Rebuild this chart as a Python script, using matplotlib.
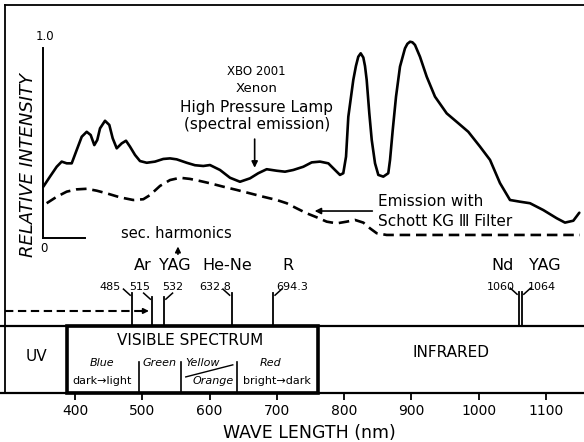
import matplotlib
matplotlib.use('Agg')
import matplotlib.pyplot as plt
from matplotlib.lines import Line2D
from matplotlib.patches import Rectangle

# xenon lamp spectrum (solid)
lamp_wl = [352.9, 362.8, 372.8, 380.2, 387.7, 395.1, 402.5, 410.0, 417.4, 423.3,
           428.7, 433.1, 437.2, 444.6, 451.0, 456.0, 462.0, 469.4, 475.8, 481.7,
           489.2, 496.6, 506.6, 518.9, 531.2, 541.2, 551.1, 566.0, 578.3, 590.7,
           600.6, 615.5, 630.4, 645.2, 660.1, 672.4, 684.9, 699.8, 712.1, 724.4,
           739.3, 751.8, 764.1, 776.5, 786.4, 793.8, 798.7, 802.8, 806.2, 813.6,
           817.5, 821.0, 824.6, 828.5, 831.0, 833.5, 837.4, 841.0, 845.9, 850.8,
           858.2, 865.6, 868.2, 872.2, 877.1, 883.0, 890.4, 894.0, 897.9, 901.5,
           905.3, 912.7, 922.7, 935.0, 952.4, 969.7, 984.5, 1001.9, 1016.8, 1031.6,
           1046.5, 1061.4, 1076.2, 1096.0, 1115.9, 1128.2, 1140.6, 1149.5]
lamp_int = [0.270, 0.323, 0.375, 0.402, 0.393, 0.393, 0.463, 0.533, 0.559, 0.542,
            0.489, 0.516, 0.577, 0.617, 0.595, 0.525, 0.472, 0.498, 0.512, 0.481,
            0.437, 0.405, 0.396, 0.402, 0.416, 0.419, 0.414, 0.396, 0.383, 0.379,
            0.384, 0.358, 0.317, 0.296, 0.314, 0.341, 0.362, 0.354, 0.349, 0.358,
            0.375, 0.398, 0.402, 0.393, 0.358, 0.332, 0.341, 0.428, 0.638, 0.832,
            0.905, 0.954, 0.972, 0.950, 0.905, 0.832, 0.656, 0.516, 0.393, 0.332,
            0.323, 0.341, 0.411, 0.568, 0.744, 0.902, 0.998, 1.022, 1.033, 1.030,
            1.016, 0.954, 0.849, 0.744, 0.656, 0.604, 0.559, 0.481, 0.411, 0.289,
            0.200, 0.191, 0.183, 0.147, 0.104, 0.081, 0.091, 0.133]

# with Schott KG III filter (dashed)
filt_wl = [357.9, 372.8, 387.7, 402.5, 417.4, 432.3, 447.1, 466.9, 486.6, 501.5,
           511.5, 526.3, 541.2, 556.1, 570.9, 585.8, 600.6, 620.4, 640.3, 660.1,
           679.9, 699.8, 714.6, 729.5, 744.4, 759.2, 774.1, 788.9, 803.8, 816.1,
           828.5, 838.4, 848.4, 863.2, 883.0, 1150.5]
filt_int = [0.183, 0.217, 0.244, 0.256, 0.259, 0.249, 0.235, 0.214, 0.200, 0.204,
            0.226, 0.274, 0.305, 0.317, 0.311, 0.300, 0.288, 0.270, 0.253, 0.235,
            0.217, 0.200, 0.183, 0.156, 0.130, 0.109, 0.086, 0.077, 0.086, 0.095,
            0.081, 0.051, 0.025, 0.016, 0.016, 0.016]

# laser lines
laser_wl = [485, 515, 532, 632.8, 694.3, 1060, 1064]
laser_num = ['485', '515', '532', '632.8', '694.3', '1060', '1064']
laser_names = ['Ar', 'YAG', 'He-Ne', 'R', 'Nd', 'YAG']

# spectrum bands
uv_edge = 388
vis_edge = 761
color_edges = [495, 557, 641]
xticks = [400, 500, 600, 700, 800, 900, 1000, 1100]

# layout (pixel based mapping of the scan)
px_per_nm = 0.67286
x_lo = 400 - 75 / px_per_nm
x_hi = 400 + (584 - 75) / px_per_nm

fig = plt.figure(figsize=(5.84, 4.42), dpi=100)

ax = fig.add_axes([0, 116 / 442, 1, 326 / 442])
ax.set_xlim(x_lo, x_hi)
ax.set_ylim(-88 / 190, 238 / 190)
for s in ['top', 'right']:
    ax.spines[s].set_visible(False)
ax.spines['left'].set_position(('data', 352.9))
ax.spines['left'].set_bounds(0, 1)
ax.spines['bottom'].set_position(('data', 0))
ax.spines['bottom'].set_bounds(352.9, 415)
for s in ['left', 'bottom']:
    ax.spines[s].set_linewidth(1.4)
ax.set_xticks([])
ax.set_yticks([])
ax.patch.set_alpha(0)

ax.plot(lamp_wl, lamp_int, color='black', lw=1.9, solid_capstyle='round',
        solid_joinstyle='round')
ax.plot(filt_wl, filt_int, color='black', lw=1.9, dashes=(4, 2.2),
        dash_joinstyle='round')

ax.text(355, 1.058, '1.0', ha='center', va='center', fontsize=8.5)
ax.text(354, -0.053, '0', ha='center', va='center', fontsize=8.5)
ax.text(330, 0.384, 'RELATIVE INTENSITY', rotation=90, ha='center', va='center',
        fontsize=13, style='italic')

# lamp annotation
ax.text(670, 0.874, 'XBO 2001', ha='center', va='center', fontsize=8.5)
ax.text(670, 0.789, 'Xenon', ha='center', va='center', fontsize=9.5)
ax.text(670, 0.689, 'High Pressure Lamp', ha='center', va='center', fontsize=11)
ax.text(670, 0.595, '(spectral emission)', ha='center', va='center', fontsize=11)
ax.annotate('', xy=(667, 0.355), xytext=(667, 0.535),
            arrowprops=dict(arrowstyle='-|>', color='black', lw=1.2, mutation_scale=9))

# filter annotation
ax.text(850, 0.19, 'Emission with', ha='left', va='center', fontsize=11)
ax.text(850, 0.089, 'Schott KG Ⅲ Filter', ha='left', va='center', fontsize=11)
ax.annotate('', xy=(752, 0.142), xytext=(846, 0.142),
            arrowprops=dict(arrowstyle='-|>', color='black', lw=1.2, mutation_scale=9))

# second harmonics
ax.text(550, 0.026, 'sec. harmonics', ha='center', va='center', fontsize=10.5)
ax.annotate('', xy=(553, -0.03), xytext=(553, -0.10),
            arrowprops=dict(arrowstyle='-|>', color='black', lw=1.2, mutation_scale=8))

# laser lines
tops = [-0.289, -0.31, -0.31, -0.289, -0.289, -0.284, -0.284]
lead = [-1, -1, 1, -1, 1, -1, 1]
num_x = [452, 496.6, 545.6, 608, 722.4, 1033, 1094]
for wl, t, d, lab, nx in zip(laser_wl, tops, lead, laser_num, num_x):
    ax.plot([wl, wl], [t, -88 / 190], color='black', lw=1.3)
    ax.plot([wl + d * 3, wl + d * 13], [t - 0.012, t + 0.02], color='black', lw=1.1)
    ax.text(nx, -0.258, lab, ha='center', va='center', fontsize=8)

name_x = [500, 548.6, 627, 716.5, 1036, 1098]
for nx, nm in zip(name_x, laser_names):
    ax.text(nx, -0.147, nm, ha='center', va='center', fontsize=11.5)

# dashed arrow to the 515 line
ax.plot([296, 503], [-0.384, -0.384], color='black', lw=1.5, dashes=(4, 2.2))
ax.annotate('', xy=(514, -0.384), xytext=(500, -0.384),
            arrowprops=dict(arrowstyle='-|>', color='black', lw=1.2, mutation_scale=8))

# spectrum strip
axb = fig.add_axes([0, 49 / 442, 1, 67 / 442])
axb.set_xlim(x_lo, x_hi)
axb.set_ylim(0, 1)
axb.patch.set_alpha(0)
for s in ['left', 'right']:
    axb.spines[s].set_visible(False)
for s in ['top', 'bottom']:
    axb.spines[s].set_linewidth(1.6)
axb.set_yticks([])
axb.set_xticks(xticks)
axb.set_xticklabels([str(t) for t in xticks], fontsize=10)
axb.tick_params(axis='x', direction='out', length=5, width=1.3, pad=3)

axb.add_patch(Rectangle((uv_edge, 0), vis_edge - uv_edge, 1, fill=False,
                        lw=2.6, edgecolor='black', clip_on=False))
for e in color_edges:
    axb.plot([e, e], [0, 0.46], color='black', lw=1.2)

axb.text(342, 0.54, 'UV', ha='center', va='center', fontsize=11)
axb.text(571, 0.79, 'VISIBLE SPECTRUM', ha='center', va='center', fontsize=11)
axb.text(958.7, 0.6, 'INFRARED', ha='center', va='center', fontsize=11)

axb.text(440, 0.45, 'Blue', ha='center', va='center', fontsize=8, style='italic')
axb.text(440, 0.18, 'dark→light', ha='center', va='center', fontsize=8)
axb.text(526, 0.45, 'Green', ha='center', va='center', fontsize=8, style='italic')
axb.text(590, 0.45, 'Yellow', ha='center', va='center', fontsize=8, style='italic')
axb.text(605, 0.18, 'Orange', ha='center', va='center', fontsize=8, style='italic')
axb.plot([564.6, 634.5], [0.24, 0.42], color='black', lw=1.0)
axb.text(690, 0.45, 'Red', ha='center', va='center', fontsize=8, style='italic')
axb.text(700, 0.18, 'bright→dark', ha='center', va='center', fontsize=8)

axb.text(749, -0.6, 'WAVE LENGTH (nm)', ha='center', va='center', fontsize=12.5)

# outer frame of the scan
fig.add_artist(Line2D([5 / 584, 1], [1 - 5 / 442, 1 - 5 / 442], color='black', lw=1.3))
fig.add_artist(Line2D([5 / 584, 5 / 584], [1 - 5 / 442, 49 / 442], color='black', lw=1.3))

fig.savefig('out.png', dpi=100)
